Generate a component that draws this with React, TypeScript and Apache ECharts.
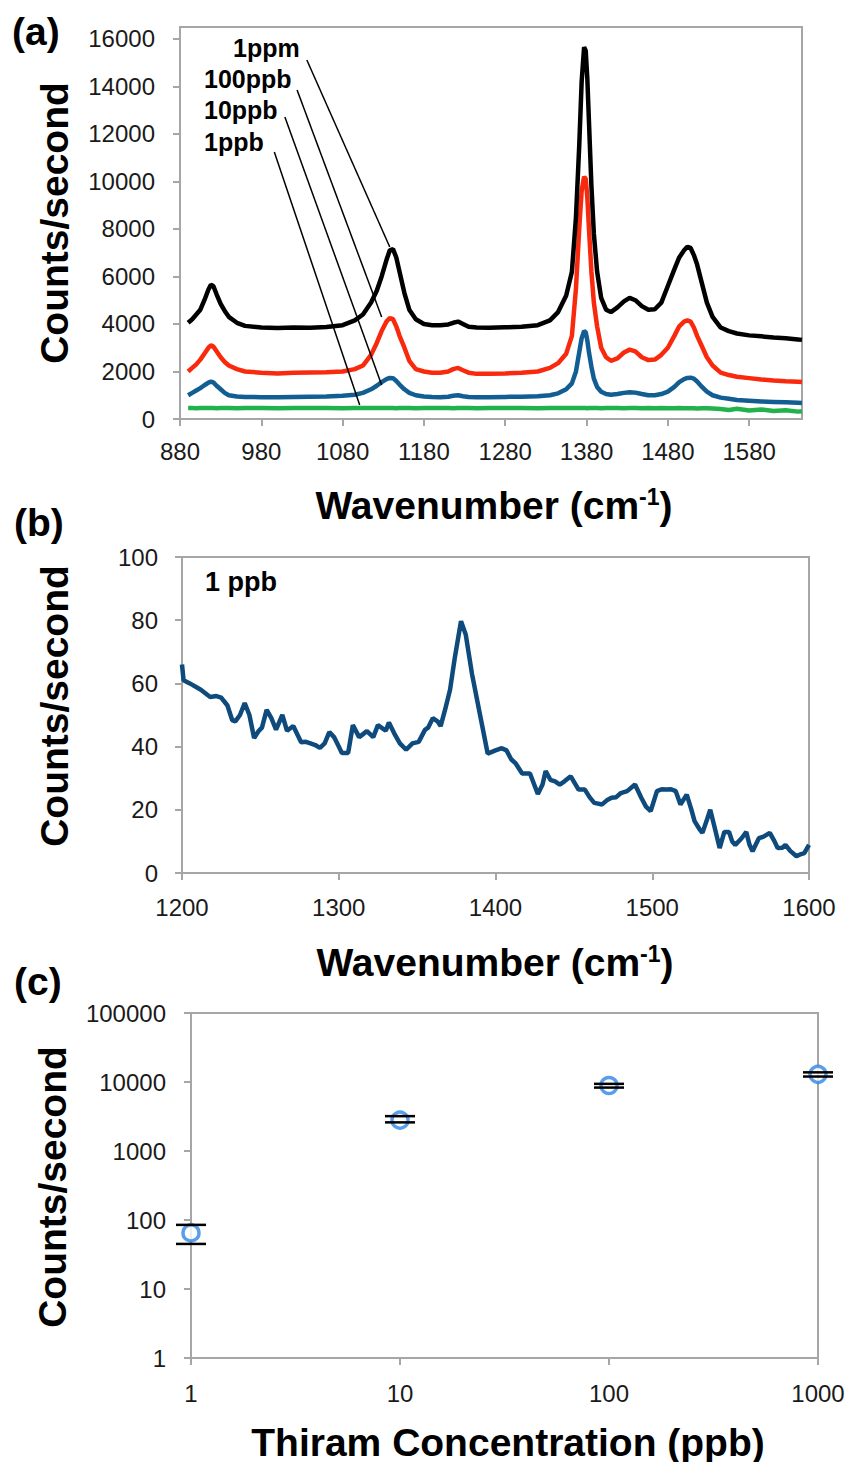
import React, { useEffect, useRef } from "react";
import * as echarts from "echarts";

const FONT = "'Liberation Sans', Arial, Helvetica, sans-serif";

// ---------- Panel (a): SERS spectra at four concentrations ----------
const aWavenumbers = [
  890, 895, 900, 905, 910, 915, 918, 921, 925, 930,
  935, 940, 950, 960, 980, 1000, 1020, 1040, 1060, 1080,
  1095, 1105, 1115, 1122, 1128, 1134, 1138, 1142, 1146, 1150,
  1156, 1162, 1170, 1180, 1190, 1200, 1210, 1216, 1222, 1228,
  1235, 1245, 1260, 1280, 1300, 1320, 1335, 1345, 1355, 1362,
  1367, 1371, 1374, 1377, 1379, 1381, 1383, 1386, 1389, 1393,
  1398, 1404, 1410, 1418, 1426, 1433, 1440, 1448, 1456, 1464,
  1472, 1480, 1488, 1494, 1500, 1504, 1508, 1512, 1516, 1522,
  1528, 1535, 1545, 1555, 1565, 1580, 1595, 1610, 1625, 1640,
  1645,
];
const a1ppm = [
  4050, 4200, 4400, 4600, 5000, 5450, 5650, 5600, 5250, 4850,
  4550, 4300, 4050, 3920, 3850, 3830, 3850, 3840, 3870, 3950,
  4150, 4400, 4900, 5400, 6000, 6700, 7100, 7150, 6800, 6200,
  5300, 4600, 4200, 4000, 3950, 3950, 3980, 4050, 4100, 4000,
  3880, 3850, 3840, 3860, 3880, 3950, 4150, 4500, 5200, 6200,
  8500, 11500, 14200, 15650, 15500, 14300, 12500, 9800, 7800, 6200,
  5100, 4600, 4500, 4700, 4950, 5100, 5000, 4750, 4600, 4620,
  4900, 5600, 6300, 6800, 7100, 7250, 7200, 6900, 6500, 5700,
  4900, 4300, 3850, 3700, 3600, 3520, 3480, 3430, 3400, 3350,
  3330,
];
const a100ppb = [
  2000, 2150, 2300, 2500, 2750, 3000, 3100, 3050, 2850, 2600,
  2400, 2250, 2100, 2000, 1950, 1920, 1950, 1960, 1970, 2000,
  2100, 2250, 2700, 3200, 3700, 4100, 4250, 4200, 3900, 3500,
  3000, 2450, 2100, 2000, 1950, 1950, 2000, 2100, 2150, 2050,
  1950, 1900, 1900, 1920, 1950, 2000, 2150, 2350, 2750, 3500,
  5500, 8000, 9600, 10200, 10100, 9300, 8000, 6200, 4900, 3900,
  3000, 2600, 2450, 2550, 2800, 2920, 2850, 2600, 2480, 2500,
  2700, 3000, 3500, 3900, 4100, 4150, 4100, 3850, 3500, 3050,
  2600, 2250, 1950, 1850, 1780, 1720, 1660, 1620, 1590, 1570,
  1560,
];
const a10ppb = [
  1000, 1100, 1200, 1300, 1420, 1530, 1570, 1540, 1400, 1250,
  1100, 1000, 950, 930, 920, 920, 930, 940, 950, 980,
  1020, 1100, 1250, 1400, 1550, 1680, 1730, 1720, 1600, 1450,
  1250, 1100, 1000, 950, 930, 920, 940, 980, 1000, 960,
  930, 920, 920, 930, 940, 960, 1000, 1080, 1250, 1500,
  2000, 2800, 3400, 3700, 3650, 3300, 2800, 2200, 1700, 1350,
  1150, 1050, 1020, 1050, 1100, 1130, 1110, 1050, 1000, 1000,
  1050, 1150, 1350, 1550, 1680, 1730, 1740, 1700, 1580, 1350,
  1150, 1000, 900, 850, 800, 770, 740, 720, 700, 680,
  670,
];
const a1ppb = [
  460, 460, 455, 460, 460, 465, 460, 460, 455, 460,
  460, 460, 455, 460, 460, 455, 460, 460, 460, 455,
  460, 460, 460, 465, 460, 460, 460, 460, 455, 460,
  460, 460, 455, 460, 460, 460, 460, 455, 460, 460,
  460, 455, 460, 460, 460, 455, 460, 460, 460, 460,
  460, 465, 460, 460, 460, 455, 460, 460, 460, 460,
  455, 460, 460, 460, 455, 460, 460, 450, 460, 455,
  460, 450, 455, 460, 450, 455, 450, 455, 440, 450,
  450, 440, 420, 380, 430, 360, 400, 340, 370, 310,
  330,
];
const aSeriesNames = ["1ppb", "10ppb", "100ppb", "1ppm"];
const aSeriesValues = [a1ppb, a10ppb, a100ppb, a1ppm];
const aSeriesColors = ["#21b24b", "#125e93", "#f8290d", "#000000"];
// leader lines: label position -> curve position, in data units
const aLeaderStart = [
  [996, 11240],
  [1009, 12710],
  [1024, 13850],
  [1036, 15110],
];
const aLeaderEnd = [
  [1101, 590],
  [1128, 1430],
  [1128, 4290],
  [1138, 7240],
];

// ---------- Panel (b): 1 ppb spectrum ----------
const bWavenumbers = [
  1200, 1201, 1205, 1212, 1218, 1222, 1225, 1229, 1232, 1234,
  1237, 1240, 1243, 1246, 1249, 1251, 1254, 1257, 1260, 1264,
  1267, 1271, 1276, 1279, 1282, 1285, 1288, 1291, 1294, 1297,
  1300, 1302, 1306, 1309, 1313, 1318, 1322, 1325, 1330, 1332,
  1336, 1339, 1343, 1347, 1351, 1355, 1357, 1360, 1363, 1365,
  1368, 1371, 1374, 1378, 1381, 1385, 1390, 1395, 1400, 1404,
  1407, 1410, 1413, 1417, 1422, 1427, 1430, 1432, 1435, 1438,
  1441, 1444, 1448, 1453, 1457, 1460, 1463, 1468, 1471, 1474,
  1477, 1480, 1484, 1489, 1493, 1496, 1499, 1503, 1506, 1509,
  1512, 1515, 1518, 1522, 1525, 1527, 1530, 1532, 1535, 1537,
  1540, 1543, 1546, 1549, 1551, 1553, 1557, 1560, 1562, 1564,
  1568, 1571, 1575, 1578, 1580, 1583, 1585, 1588, 1592, 1595,
  1597, 1600,
];
const bCounts = [
  66, 61, 60, 58, 55.7, 56, 55.5, 53, 48.4, 48,
  50, 53.8, 50, 42.7, 45, 46, 51.6, 49, 45.4, 50,
  45, 46.5, 41.4, 41.5, 41, 40.5, 39.6, 41, 44.6, 43,
  40, 38, 38, 46.8, 43, 44.9, 43, 46.8, 45, 47.6,
  43.6, 41, 39, 41, 41.5, 45.3, 46, 49, 48, 46.5,
  52, 58, 68, 79.7, 75.5, 63, 50.4, 37.8, 38.8, 39.5,
  38.8, 36, 34.6, 31.5, 31.5, 25, 28, 32.3, 29.5, 29,
  28, 29, 30.6, 26.4, 26.4, 24, 22.2, 21.7, 23, 23.8,
  24, 25.3, 25.9, 28, 23.8, 21, 19.6, 25.9, 26.5, 26.4,
  26.5, 25.9, 21.7, 24.8, 20, 16.4, 14, 12.7, 17, 20,
  14, 7.9, 13, 13, 10, 8.9, 11, 13, 9, 6.9,
  11, 11.5, 12.7, 10, 7.9, 8, 8.9, 7, 5.3, 6,
  6.3, 8.9,
];

// ---------- Panel (c): intensity vs concentration ----------
const cConcentrations = [1, 10, 100, 1000];
const cMeans = [65, 2800, 8900, 12900];
const cErrLow = [45, 2600, 8300, 12000];
const cErrHigh = [85, 3200, 9400, 13800];

const AXIS_GRAY = "#a6a6a6";
const LABEL_COLOR = "#1a1a1a";

function axisCommon(labelMargin: number) {
  return {
    axisLine: { show: true, lineStyle: { color: AXIS_GRAY, width: 2 } },
    axisTick: { show: true, length: 7, lineStyle: { color: AXIS_GRAY, width: 2 } },
    splitLine: { show: false },
    axisLabel: {
      color: LABEL_COLOR,
      fontSize: 24,
      fontFamily: FONT,
      margin: labelMargin,
      formatter: (v: number) => String(Math.round(v)),
    },
  };
}

function titleText(text: string, x: number, y: number, rotate: boolean, size = 39) {
  return {
    type: "text",
    x,
    y,
    rotation: rotate ? Math.PI / 2 : 0,
    silent: true,
    style: {
      text,
      fill: "#000",
      fontSize: size,
      fontWeight: "bold",
      fontFamily: FONT,
      align: "center",
      verticalAlign: "middle",
      rich: {
        sup: {
          fontSize: 23,
          fontWeight: "bold",
          fontFamily: FONT,
          fill: "#000",
          verticalAlign: "top",
        },
      },
    },
  };
}

function labelText(text: string, x: number, y: number, size: number) {
  return {
    type: "text",
    x,
    y,
    silent: true,
    style: {
      text,
      fill: "#000",
      fontSize: size,
      fontWeight: "bold",
      fontFamily: FONT,
      align: "left",
      verticalAlign: "middle",
    },
  };
}

export default function App() {
  const ref = useRef<HTMLDivElement>(null);

  useEffect(() => {
    document.body.style.margin = "0";
    document.body.style.background = "#fff";
    if (!ref.current) return;
    const chart = echarts.init(ref.current, undefined, { renderer: "svg" });

    const aSeries = aSeriesNames.map((name, i) => ({
      name,
      type: "line",
      xAxisIndex: 0,
      yAxisIndex: 0,
      showSymbol: false,
      symbol: "none",
      clip: true,
      lineStyle: { color: aSeriesColors[i], width: 4.5 },
      itemStyle: { color: aSeriesColors[i] },
      z: 2 + i,
      data: aWavenumbers.map((w, k) => [w, aSeriesValues[i][k]]),
      markLine:
        i === 3
          ? {
              silent: true,
              symbol: ["none", "none"],
              label: { show: false },
              lineStyle: { color: "#000", width: 1.5, type: "solid" },
              data: aLeaderStart.map((s, j) => [
                { coord: s },
                { coord: aLeaderEnd[j] },
              ]),
            }
          : undefined,
    }));

    const option: any = {
      animation: false,
      backgroundColor: "#fff",
      grid: [
        { left: 180, top: 27, width: 622, height: 392, show: true, borderColor: AXIS_GRAY, borderWidth: 2, backgroundColor: "transparent" },
        { left: 182, top: 557, width: 627, height: 316, show: true, borderColor: AXIS_GRAY, borderWidth: 2, backgroundColor: "transparent" },
        { left: 191, top: 1013, width: 627, height: 345, show: true, borderColor: AXIS_GRAY, borderWidth: 2, backgroundColor: "transparent" },
      ],
      xAxis: [
        {
          type: "value",
          gridIndex: 0,
          min: 880,
          max: 1645,
          interval: 100,
          ...axisCommon(20),
          axisLabel: { ...axisCommon(20).axisLabel, showMaxLabel: false },
        },
        {
          type: "value",
          gridIndex: 1,
          min: 1200,
          max: 1600,
          interval: 100,
          ...axisCommon(22),
        },
        {
          type: "log",
          gridIndex: 2,
          logBase: 10,
          min: 1,
          max: 1000,
          ...axisCommon(23),
        },
      ],
      yAxis: [
        {
          type: "value",
          gridIndex: 0,
          min: 0,
          max: 16500,
          interval: 2000,
          ...axisCommon(25),
          axisLabel: {
            ...axisCommon(25).axisLabel,
            showMaxLabel: false,
            formatter: (v: number) => (v % 2000 === 0 ? String(v) : ""),
          },
        },
        {
          type: "value",
          gridIndex: 1,
          min: 0,
          max: 100,
          interval: 20,
          ...axisCommon(24),
        },
        {
          type: "log",
          gridIndex: 2,
          logBase: 10,
          min: 1,
          max: 100000,
          ...axisCommon(25),
        },
      ],
      series: [
        ...aSeries,
        {
          name: "1 ppb spectrum",
          type: "line",
          xAxisIndex: 1,
          yAxisIndex: 1,
          showSymbol: false,
          symbol: "none",
          lineStyle: { color: "#0e4b7c", width: 4.5 },
          data: bWavenumbers.map((w, k) => [w, bCounts[k]]),
        },
        {
          name: "mean",
          type: "scatter",
          xAxisIndex: 2,
          yAxisIndex: 2,
          symbol: "circle",
          symbolSize: 16,
          clip: false,
          z: 2,
          itemStyle: { color: "#ffffff", borderColor: "#2f86e4", borderWidth: 3.5 },
          data: cConcentrations.map((c, k) => [c, cMeans[k]]),
        },
        {
          name: "error",
          type: "custom",
          xAxisIndex: 2,
          yAxisIndex: 2,
          clip: false,
          z: 5,
          encode: { x: 0, y: [1, 2] },
          data: cConcentrations.map((c, k) => [c, cErrLow[k], cErrHigh[k]]),
          renderItem: (params: any, api: any) => {
            const x = api.value(0);
            const pLo = api.coord([x, api.value(1)]);
            const pHi = api.coord([x, api.value(2)]);
            const half = 15;
            const st = { stroke: "#000", lineWidth: 2.5 };
            return {
              type: "group",
              children: [
                { type: "line", shape: { x1: pLo[0] - half, y1: pLo[1], x2: pLo[0] + half, y2: pLo[1] }, style: st },
                { type: "line", shape: { x1: pHi[0] - half, y1: pHi[1], x2: pHi[0] + half, y2: pHi[1] }, style: st },
              ],
            };
          },
        },
      ],
      graphic: [
        labelText("(a)", 12, 31, 39),
        labelText("(b)", 14, 522, 39),
        labelText("(c)", 14, 981, 39),
        titleText("Counts/second", 54, 223, true),
        titleText("Counts/second", 54, 706, true),
        titleText("Counts/second", 52, 1187, true),
        titleText("Wavenumber (cm{sup|-1})", 494, 505, false),
        titleText("Wavenumber (cm{sup|-1})", 495, 962, false),
        titleText("Thiram Concentration (ppb)", 508, 1442, false),
        labelText("1ppm", 233, 48, 25),
        labelText("100ppb", 204, 79, 25),
        labelText("10ppb", 204, 110, 25),
        labelText("1ppb", 204, 142, 25),
        labelText("1 ppb", 205, 582, 27),
      ],
    };

    chart.setOption(option);
    return () => {
      chart.dispose();
    };
  }, []);

  return (
    <div
      ref={ref}
      style={{ position: "absolute", left: 0, top: 0, width: 850, height: 1462, background: "#fff" }}
    />
  );
}
